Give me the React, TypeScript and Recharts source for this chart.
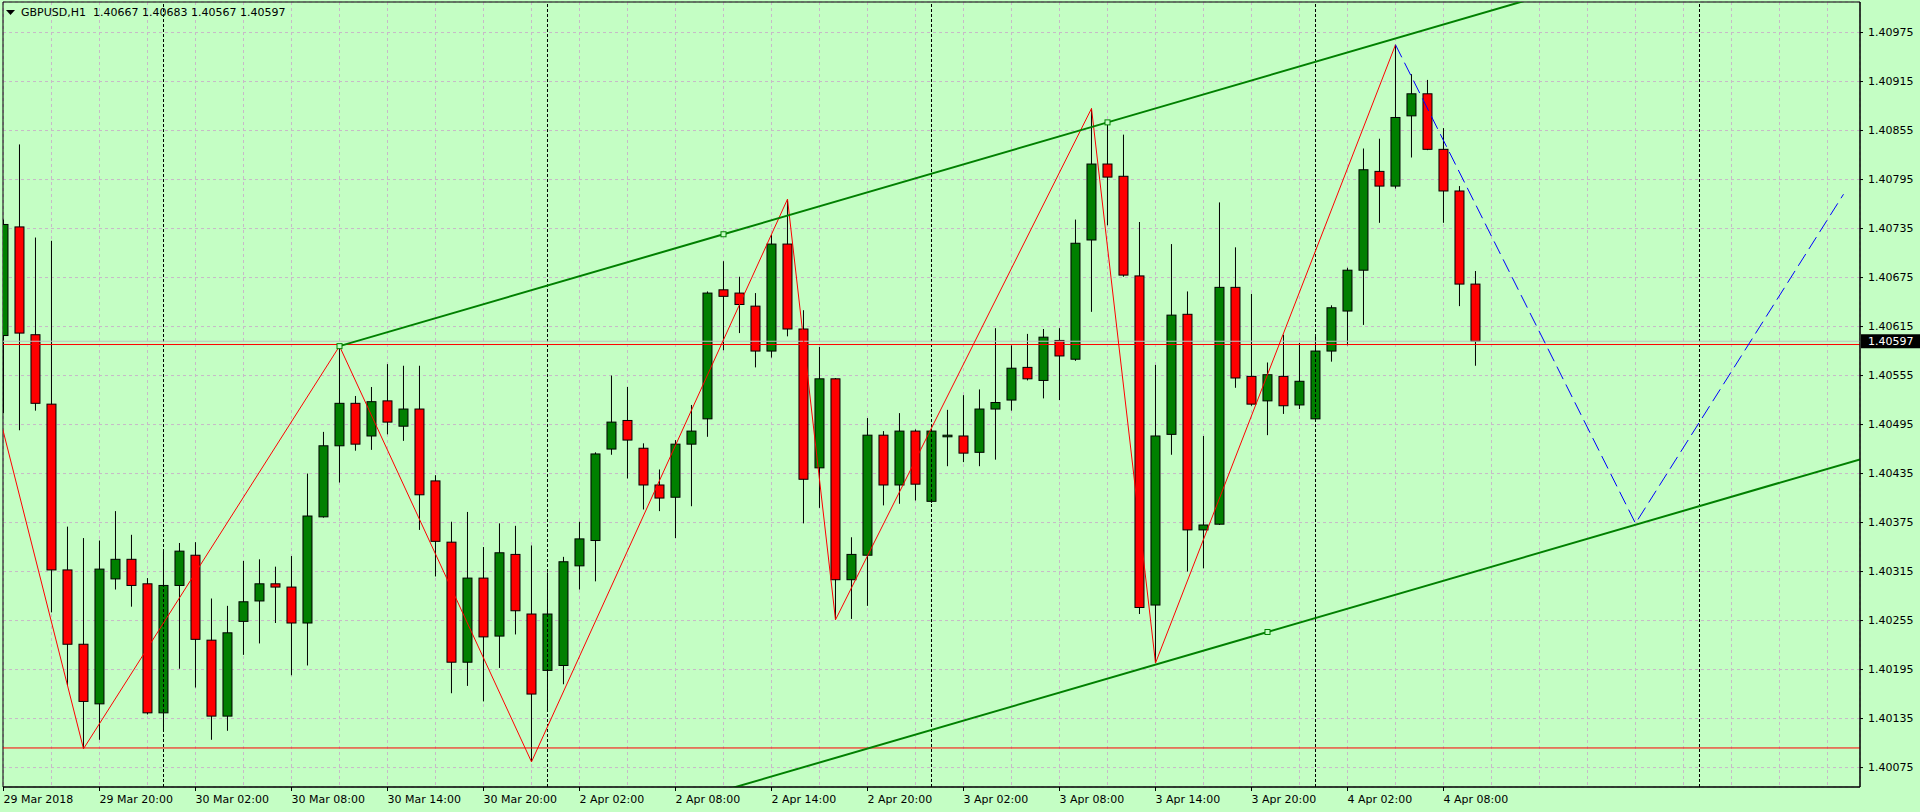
import React from "react";
import {
  ComposedChart,
  Bar,
  Line,
  Scatter,
  XAxis,
  YAxis,
  CartesianGrid,
  ReferenceLine,
  ReferenceArea,
} from "recharts";

// GBPUSD H1, bar 0 = 29 Mar 2018 14:00
const opens = [
  1.40604, 1.40737, 1.40605, 1.4052, 1.40317, 1.40226, 1.40153, 1.40306, 1.4033, 1.403,
  1.40142, 1.40298, 1.40335, 1.40231, 1.40138, 1.40254, 1.40279, 1.403, 1.40296, 1.40252,
  1.40382, 1.40469, 1.40521, 1.40481, 1.40524, 1.40493, 1.40514, 1.40426, 1.40351, 1.40204,
  1.40307, 1.40236, 1.40336, 1.40263, 1.40194, 1.402, 1.40322, 1.40353, 1.40465, 1.405,
  1.40466, 1.40421, 1.40406, 1.40471, 1.40502, 1.4066, 1.40656, 1.4064, 1.40585, 1.40716,
  1.40612, 1.40442, 1.40551, 1.40305, 1.40335, 1.40482, 1.40421, 1.40487, 1.40401, 1.4048,
  1.40481, 1.40461, 1.40514, 1.40525, 1.40565, 1.40549, 1.40598, 1.40575, 1.40721, 1.40814,
  1.40799, 1.40677, 1.40274, 1.40483, 1.4063, 1.40366, 1.40373, 1.40663, 1.40554, 1.40524,
  1.40554, 1.40519, 1.40502, 1.40585, 1.40634, 1.40684, 1.40805, 1.40787, 1.40873, 1.409,
  1.40832, 1.40781, 1.40667,
];
const highs = [
  1.40746, 1.40838, 1.40724, 1.4072, 1.4037, 1.40356, 1.40353, 1.40389, 1.4036, 1.40307,
  1.40339, 1.4035, 1.40351, 1.40282, 1.40273, 1.40328, 1.4033, 1.40321, 1.40334, 1.40435,
  1.40486, 1.40591, 1.4053, 1.40541, 1.40569, 1.40567, 1.40567, 1.40433, 1.40376, 1.40388,
  1.40345, 1.40374, 1.40371, 1.40347, 1.40314, 1.40333, 1.40376, 1.40461, 1.40555, 1.40541,
  1.40472, 1.4044, 1.40476, 1.40519, 1.40658, 1.40695, 1.40676, 1.40656, 1.40727, 1.40771,
  1.40635, 1.4059, 1.40552, 1.40357, 1.40503, 1.40487, 1.40509, 1.40489, 1.40489, 1.40513,
  1.40531, 1.40538, 1.40613, 1.40592, 1.40606, 1.40612, 1.40613, 1.40746, 1.40882, 1.40865,
  1.4085, 1.40743, 1.40568, 1.40716, 1.40658, 1.40481, 1.40767, 1.40712, 1.40655, 1.40571,
  1.40605, 1.40595, 1.40603, 1.40641, 1.40687, 1.40833, 1.40845, 1.4096, 1.40924, 1.40917,
  1.40858, 1.40787, 1.40683,
];
const lows = [
  1.40509, 1.40488, 1.40512, 1.40265, 1.40176, 1.40098, 1.40109, 1.40293, 1.40272, 1.4014,
  1.4012, 1.40196, 1.40173, 1.40109, 1.4012, 1.40213, 1.40227, 1.40252, 1.40188, 1.402,
  1.40381, 1.40424, 1.40463, 1.40464, 1.40483, 1.40475, 1.40366, 1.40309, 1.40166, 1.40175,
  1.40156, 1.40197, 1.40238, 1.40082, 1.40143, 1.40177, 1.40293, 1.40303, 1.40458, 1.40429,
  1.40391, 1.40389, 1.40356, 1.40395, 1.4048, 1.40586, 1.40607, 1.40565, 1.40577, 1.40603,
  1.40374, 1.40393, 1.40256, 1.40257, 1.40273, 1.40396, 1.40398, 1.40402, 1.40399, 1.40444,
  1.40449, 1.40444, 1.40452, 1.40512, 1.40549, 1.40527, 1.40525, 1.40573, 1.40633, 1.40739,
  1.40676, 1.40263, 1.40203, 1.40458, 1.40315, 1.40319, 1.40372, 1.4054, 1.40518, 1.40482,
  1.40508, 1.40514, 1.40501, 1.40572, 1.40592, 1.40617, 1.40742, 1.40784, 1.40822, 1.40831,
  1.40742, 1.4064, 1.40567,
];
const closes = [
  1.4074, 1.40607, 1.40521, 1.40317, 1.40226, 1.40156, 1.40318, 1.4033, 1.40298, 1.40142,
  1.40298, 1.4034, 1.40232, 1.40138, 1.4024, 1.40278, 1.403, 1.40296, 1.40252, 1.40383,
  1.40469, 1.40521, 1.40471, 1.40523, 1.40498, 1.40514, 1.40409, 1.40352, 1.40204, 1.40307,
  1.40235, 1.40338, 1.40267, 1.40165, 1.40263, 1.40327, 1.40355, 1.40459, 1.40498, 1.40476,
  1.40421, 1.40405, 1.40471, 1.40487, 1.40656, 1.40652, 1.40642, 1.40585, 1.40716, 1.40612,
  1.40428, 1.40551, 1.40305, 1.40336, 1.40482, 1.40421, 1.40487, 1.40422, 1.40487, 1.40482,
  1.4046, 1.40514, 1.40522, 1.40564, 1.40551, 1.40602, 1.40579, 1.40717, 1.40814, 1.40798,
  1.40678, 1.40271, 1.40481, 1.40629, 1.40366, 1.40372, 1.40663, 1.40552, 1.4052, 1.40556,
  1.40518, 1.40548, 1.40585, 1.40638, 1.40684, 1.40807, 1.40787, 1.40871, 1.409, 1.40832,
  1.40781, 1.40667, 1.40597,
];

// one label every 6 bars, starting at bar 0
const timeLabels = [
  "29 Mar 2018", "29 Mar 20:00", "30 Mar 02:00", "30 Mar 08:00", "30 Mar 14:00",
  "30 Mar 20:00", "2 Apr 02:00", "2 Apr 08:00", "2 Apr 14:00", "2 Apr 20:00",
  "3 Apr 02:00", "3 Apr 08:00", "3 Apr 14:00", "3 Apr 20:00", "4 Apr 02:00",
  "4 Apr 08:00",
];
const priceTicks = [
  1.40075, 1.40135, 1.40195, 1.40255, 1.40315, 1.40375, 1.40435, 1.40495,
  1.40555, 1.40615, 1.40675, 1.40735, 1.40795, 1.40855, 1.40915, 1.40975,
];
const daySeparators = [10, 34, 58, 82, 106];

// zigzag pivots (bar index, price)
const zigzagBars = [-1, 5, 21, 33, 49, 52, 68, 72, 87];
const zigzagPrices = [1.40563, 1.40098, 1.40591, 1.40082, 1.40771, 1.40256, 1.40882, 1.40203, 1.4096];

// channel: upper line anchors, lower line anchor (parallel)
const upperBars = [21, 45, 69];
const upperPrices = [1.40591, 1.40728, 1.40865];
const lowerBar = 79;
const lowerPrice = 1.40241;

// projected path
const forecastBars = [87, 102, 115];
const forecastPrices = [1.4096, 1.40374, 1.40777];

const levelLines = [1.40593, 1.40099];
const bidPrice = 1.40597;

const X0 = -0.03125;
const X1 = 116.03125;
const Y0 = 1.400512;
const Y1 = 1.410124;

const BG = "#c4fec4";
const UP = "#008000";
const DOWN = "#ff0000";
const FONT = "DejaVu Sans";
const BODY = 9;

const candles = opens.map((o, i) => ({
  i,
  o,
  h: highs[i],
  l: lows[i],
  c: closes[i],
  range: [lows[i], highs[i]],
}));

const zigzag = zigzagBars.map((i, k) => ({ i, p: zigzagPrices[k] }));
const slope =
  (upperPrices[upperPrices.length - 1] - upperPrices[0]) /
  (upperBars[upperBars.length - 1] - upperBars[0]);
const upperLine = [
  ...upperBars.map((i, k) => ({ i, p: upperPrices[k] })),
  { i: X1, p: upperPrices[0] + (X1 - upperBars[0]) * slope },
];
const lowerLine = [
  { i: X0, p: lowerPrice + (X0 - lowerBar) * slope },
  { i: lowerBar, p: lowerPrice },
  { i: X1, p: lowerPrice + (X1 - lowerBar) * slope },
];
const markers = [
  ...upperBars.map((i, k) => ({ i, p: upperPrices[k] })),
  { i: lowerBar, p: lowerPrice },
];
const forecast = forecastBars.map((i, k) => ({ i, p: forecastPrices[k] }));
const gridTicks = Array.from({ length: 39 }, (_, k) => k * 3);

const Candle = (props: any) => {
  const { x, y, width, height, payload } = props;
  const top = Math.min(y, y + height);
  const span = Math.abs(height);
  const { o, h, l, c } = payload;
  const k = h > l ? span / (h - l) : 0;
  const yOf = (p: number) => top + (h - p) * k;
  const cx = x + (width || 0) / 2;
  const bodyTop = yOf(Math.max(o, c));
  const bodyBot = yOf(Math.min(o, c));
  return (
    <g>
      <line x1={cx} x2={cx} y1={top} y2={top + span} stroke="#000" strokeWidth={1} />
      <rect
        x={cx - BODY / 2}
        y={bodyTop}
        width={BODY}
        height={Math.max(bodyBot - bodyTop, 1)}
        fill={c >= o ? UP : DOWN}
        stroke="#000"
        strokeWidth={1}
      />
    </g>
  );
};

const Marker = (props: any) => {
  const { cx, cy } = props;
  return <rect x={cx - 2.5} y={cy - 2.5} width={5} height={5} fill={BG} stroke={UP} strokeWidth={1} />;
};

const TimeTick = (props: any) => {
  const { x, y, payload } = props;
  const v = payload.value;
  const label = v % 6 === 0 ? timeLabels[v / 6] : undefined;
  if (!label) return <g />;
  return (
    <g>
      <line x1={x} x2={x} y1={y} y2={y + 4} stroke="#000" />
      <text x={x} y={y + 16} fontSize={11} fontFamily={FONT} fill="#000">
        {label}
      </text>
    </g>
  );
};

const BidLabel = (props: any) => {
  const { viewBox } = props;
  const x = viewBox.x + viewBox.width + 1;
  const y = viewBox.y;
  return (
    <g>
      <rect x={x} y={y - 7} width={60} height={14} fill="#000" />
      <text x={x + 7} y={y + 4} fontSize={11} fontFamily={FONT} fill="#fff">
        {bidPrice.toFixed(5)}
      </text>
    </g>
  );
};

const last = candles[candles.length - 1];

export default function App() {
  return (
    <div style={{ position: "absolute", left: 0, top: 0, width: 1920, height: 812, background: BG }}>
      <ComposedChart
        width={1920}
        height={812}
        data={candles}
        margin={{ top: 2, right: 0, left: 3, bottom: 0 }}
      >
        <CartesianGrid stroke="#c8b8c8" strokeDasharray="3 3" />
        <XAxis
          dataKey="i"
          type="number"
          domain={[X0, X1]}
          allowDataOverflow
          ticks={gridTicks}
          interval={0}
          tick={<TimeTick />}
          tickLine={false}
          tickSize={0}
          tickMargin={0}
          axisLine={{ stroke: "#000" }}
          height={25}
        />
        <YAxis
          orientation="right"
          type="number"
          domain={[Y0, Y1]}
          allowDataOverflow
          ticks={priceTicks}
          interval={0}
          tickFormatter={(v: number) => v.toFixed(5)}
          tick={{ fill: "#000", fontSize: 11, fontFamily: FONT }}
          tickLine={{ stroke: "#000" }}
          tickSize={3}
          tickMargin={5}
          axisLine={{ stroke: "#000" }}
          width={60}
        />
        {daySeparators.map((s) => (
          <ReferenceLine key={s} x={s} stroke="#000" strokeDasharray="3 2" />
        ))}
        <ReferenceLine y={bidPrice} stroke="#c0c0c0" label={<BidLabel />} />
        <Bar dataKey="range" barSize={BODY} shape={<Candle />} isAnimationActive={false} />
        {levelLines.map((p) => (
          <ReferenceLine key={p} y={p} stroke="#ff0000" />
        ))}
        <Line data={zigzag} dataKey="p" stroke="#ff0000" strokeWidth={1} dot={false} isAnimationActive={false} />
        <Line data={upperLine} dataKey="p" stroke={UP} strokeWidth={2} dot={false} isAnimationActive={false} />
        <Line data={lowerLine} dataKey="p" stroke={UP} strokeWidth={2} dot={false} isAnimationActive={false} />
        <Line
          data={forecast}
          dataKey="p"
          stroke="#0000ff"
          strokeWidth={1}
          strokeDasharray="14 6"
          dot={false}
          isAnimationActive={false}
        />
        <Scatter data={markers} dataKey="p" shape={<Marker />} isAnimationActive={false} />
        <ReferenceArea x1={X0} x2={X1} y1={Y0} y2={Y1} fill="none" stroke="#000" strokeWidth={1} />
      </ComposedChart>
      <div
        style={{
          position: "absolute",
          left: 6,
          top: 6,
          fontFamily: FONT,
          fontSize: 11,
          lineHeight: "13px",
          color: "#000",
          whiteSpace: "pre",
          display: "flex",
          alignItems: "center",
        }}
      >
        <svg width={9} height={5} style={{ marginRight: 6 }}>
          <polygon points="0,0 9,0 4.5,5" fill="#000" />
        </svg>
        {`GBPUSD,H1  ${last.o.toFixed(5)} ${last.h.toFixed(5)} ${last.l.toFixed(5)} ${last.c.toFixed(5)}`}
      </div>
    </div>
  );
}
